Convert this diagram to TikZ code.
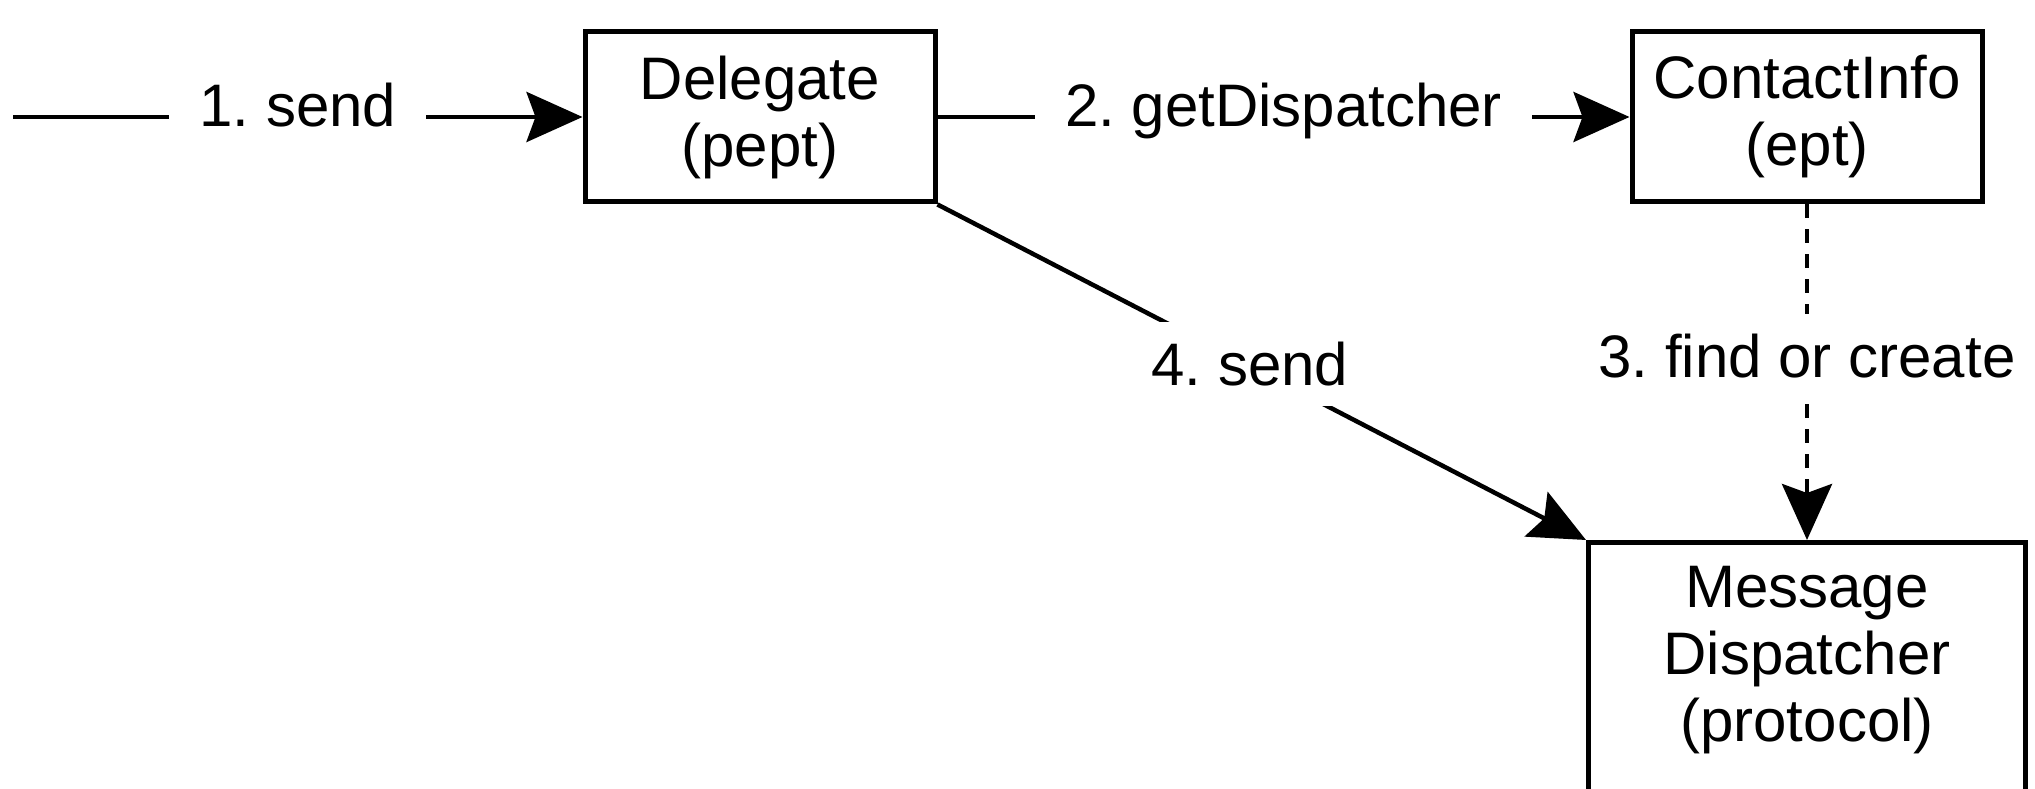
\documentclass[tikz,border=0pt]{standalone}
\usepackage{fontspec}
\setmainfont{Liberation Sans}
\usetikzlibrary{arrows.meta}
\frenchspacing
\begin{document}
\begin{tikzpicture}[x=1pt,y=1pt,
  box/.style={draw, line width=5pt, align=center, inner sep=0pt},
  conn/.style={line width=4.5pt, -{Stealth[length=56pt,width=50pt,inset=9pt]}},
  lbl/.style={fill=white, inner xsep=30pt, inner ysep=20pt, anchor=base},
  font=\fontsize{60}{67}\selectfont]
\useasboundingbox (0,0) rectangle (2035,789);
\clip (0,0) rectangle (2035,789);
\node[box, minimum width=350pt, minimum height=170pt] (del) at (760,672) {Delegate\\(pept)};
\node[box, minimum width=350pt, minimum height=170pt] (ci) at (1807,672) {ContactInfo\\(ept)};
\node[box, minimum width=437pt, minimum height=300pt, anchor=north] (md) at (1807,249) {};
\node[anchor=north, align=center, inner sep=0pt] (mdt) at (1807,223) {Message\\Dispatcher\\(protocol)};
\coordinate (start) at (13,672);
\draw[conn] (start) -- node[lbl, yshift=-10pt] {1. send} (del.west);
\draw[conn] (del.east) -- node[lbl, yshift=-10pt] {2. getDispatcher} (ci.west);
\draw[conn, dash pattern=on 14pt off 11pt] (ci.south) -- node[lbl, yshift=-5pt] {3. find or create} (md.north);
\draw[conn] (del.south east) -- node[lbl, yshift=-13pt, xshift=-12pt] {4. send} (md.north west);
\end{tikzpicture}
\end{document}
